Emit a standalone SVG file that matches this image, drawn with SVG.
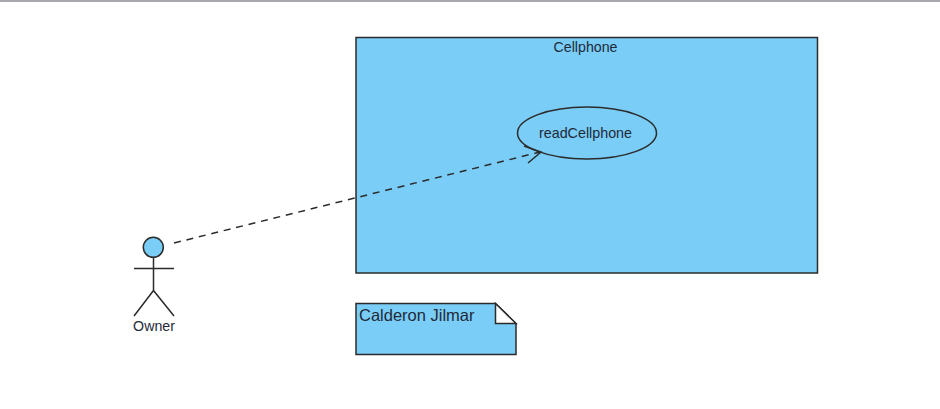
<svg xmlns="http://www.w3.org/2000/svg" width="940" height="409" viewBox="0 0 940 409">
<style>
.s{stroke:#2b2b2b;stroke-width:1.5;fill:none}
.f{fill:#7acdf6;stroke:#2b2b2b;stroke-width:1.5}
text{font-family:"Liberation Sans",Arial,sans-serif;fill:#1f2a3a}
</style>
<rect width="940" height="409" fill="#fff"/>
<rect x="0" y="0" width="940" height="2" fill="#a6a8ab"/>
<g id="cellphone"><rect class="f" x="356" y="37.500" width="461.500" height="235.500"/><text x="585.500" y="52" font-size="14.200" text-anchor="middle">Cellphone</text></g>
<g id="readCellphone"><ellipse class="f" cx="587" cy="133" rx="69.500" ry="26"/><text x="585.500" y="137.500" font-size="14.300" text-anchor="middle">readCellphone</text></g>
<g id="owner"><circle class="f" cx="153.300" cy="247.300" r="10"/><path class="s" d="M153.500 257.500V290.500M134 268.500H174M153.500 290.500L134 316M153.500 290.500L174 316"/><text x="154" y="331" font-size="14.200" text-anchor="middle">Owner</text></g>
<g id="note"><path class="f" d="M356 303.500H495.500L516 323.500V354.500H356Z"/><path fill="#fff" stroke="#2b2b2b" stroke-width="1.500" d="M495.500 303.500V323.500H516Z"/><text x="359" y="321" font-size="16.500">Calderon Jilmar</text></g>
<g id="connectors"><path class="s" stroke-dasharray="7 5.800" d="M174 243L540 152"/><path class="s" d="M524 146L541 152L528 163"/></g>
</svg>
